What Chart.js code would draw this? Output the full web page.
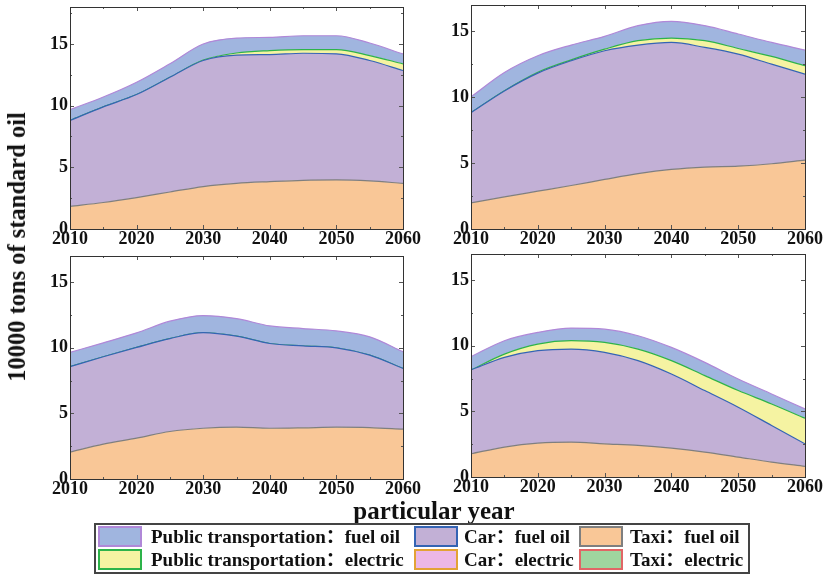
<!DOCTYPE html>
<html>
<head>
<meta charset="utf-8">
<script src="https://cdn.jsdelivr.net/npm/chart.js@4.4.1/dist/chart.umd.min.js"></script>
<style>
  html, body { margin: 0; padding: 0; background: #ffffff; }
  #wrap { position: relative; width: 826px; height: 575px; overflow: hidden; background: #fff; }
  canvas.layer { position: absolute; left: 0; top: 0; }
  .serif { font-family: "Liberation Serif", "Times New Roman", "Noto Sans CJK SC", serif; font-weight: bold; color: #111; }
  #ytitle { position: absolute; left: 17px; top: 247px; transform: translate(-50%, -50%) rotate(-90deg); white-space: nowrap; font-size: 24.5px; line-height: 26px; }
  #xtitle { position: absolute; left: 434px; top: 498px; transform: translateX(-50%); white-space: nowrap; font-size: 25px; line-height: 25px; }
  #legend { position: absolute; left: 94px; top: 523px; width: 652px; height: 47px; border: 2px solid #444; }
  .sw { position: absolute; width: 44px; height: 21px; box-sizing: border-box; border: 2px solid; }
  .lt { position: absolute; white-space: nowrap; font-size: 19px; line-height: 22px; }
</style>
</head>
<body>
<div id="wrap">
  <canvas id="c1" class="layer" width="826" height="575"></canvas>
  <canvas id="c2" class="layer" width="826" height="575"></canvas>
  <canvas id="c3" class="layer" width="826" height="575"></canvas>
  <canvas id="c4" class="layer" width="826" height="575"></canvas>
  <div id="ytitle" class="serif"></div>
  <div id="xtitle" class="serif"></div>
  <div id="legend"></div>
</div>
<script>
// ---------------- DATA ----------------
const years = [2010, 2015, 2020, 2025, 2030, 2035, 2040, 2045, 2050, 2055, 2060];
const xTickValues = [2010, 2020, 2030, 2040, 2050, 2060];
const xTickLabels = ['2010', '2020', '2030', '2040', '2050', '2060'];
const yTickValues = [0, 5, 10, 15];
const yTickLabels = ['0', '5', '10', '15'];
const yAxisTitle = '10000 tons of standard oil';
const xAxisTitle = 'particular year';

// series names (stack order bottom -> top)
const seriesNames = ['Taxi：fuel oil', 'Taxi：electric', 'Car：electric', 'Car：fuel oil',
                     'Public transportation：electric', 'Public transportation：fuel oil'];

// Panel 1 (top-left)
const p1TaxiFuel = [1.83, 2.15, 2.55, 3.00, 3.44, 3.70, 3.84, 3.95, 3.98, 3.90, 3.70];
const p1TaxiElec = [0, 0, 0, 0, 0, 0, 0, 0, 0, 0, 0];
const p1CarElec  = [0, 0, 0, 0, 0, 0, 0, 0, 0, 0, 0];
const p1CarFuel  = [6.97, 7.75, 8.35, 9.30, 10.22, 10.40, 10.30, 10.30, 10.22, 9.76, 9.15];
const p1PubElec  = [0, 0, 0, 0, 0.04, 0.17, 0.32, 0.29, 0.34, 0.40, 0.54];
const p1PubFuel  = [0.88, 0.80, 1.00, 1.10, 1.30, 1.21, 1.08, 1.13, 1.13, 1.02, 0.80];

// Panel 2 (top-right)
const p2TaxiFuel = [1.98, 2.44, 2.87, 3.30, 3.76, 4.20, 4.52, 4.70, 4.77, 4.95, 5.23];
const p2TaxiElec = [0, 0, 0, 0, 0, 0, 0, 0, 0, 0, 0];
const p2CarElec  = [0, 0, 0, 0, 0, 0, 0, 0, 0, 0, 0];
const p2CarFuel  = [6.85, 8.04, 8.96, 9.47, 9.77, 9.76, 9.64, 9.08, 8.50, 7.56, 6.52];
const p2PubElec  = [0, 0.02, 0.07, 0.07, 0.12, 0.33, 0.33, 0.51, 0.43, 0.59, 0.64];
const p2PubFuel  = [1.20, 1.38, 1.25, 1.12, 0.97, 1.14, 1.27, 1.14, 1.10, 1.06, 1.19];

// Panel 3 (bottom-left)
const p3TaxiFuel = [2.05, 2.66, 3.11, 3.62, 3.87, 3.95, 3.87, 3.90, 3.95, 3.92, 3.80];
const p3TaxiElec = [0, 0, 0, 0, 0, 0, 0, 0, 0, 0, 0];
const p3CarElec  = [0, 0, 0, 0, 0, 0, 0, 0, 0, 0, 0];
const p3CarFuel  = [6.51, 6.66, 6.92, 7.08, 7.29, 6.94, 6.46, 6.25, 6.05, 5.52, 4.63];
const p3PubElec  = [0, 0, 0, 0, 0, 0, 0, 0, 0, 0, 0];
const p3PubFuel  = [1.09, 1.06, 1.11, 1.33, 1.30, 1.34, 1.34, 1.32, 1.29, 1.40, 1.27];

// Panel 4 (bottom-right)
const p4TaxiFuel = [1.77, 2.28, 2.58, 2.66, 2.53, 2.41, 2.20, 1.90, 1.52, 1.14, 0.81];
const p4TaxiElec = [0, 0, 0, 0, 0, 0, 0, 0, 0, 0, 0];
const p4CarElec  = [0, 0, 0, 0, 0, 0, 0, 0, 0, 0, 0];
const p4CarFuel  = [6.39, 6.84, 7.05, 7.09, 6.97, 6.46, 5.65, 4.69, 3.80, 2.79, 1.72];
const p4PubElec  = [0, 0.25, 0.50, 0.64, 0.76, 0.88, 1.02, 1.14, 1.27, 1.64, 1.95];
const p4PubFuel  = [1.01, 1.02, 0.89, 0.96, 1.01, 1.02, 1.01, 1.01, 0.88, 0.76, 0.71];

// ---------------- STYLE ----------------
const fillColors = ['#f9c797', '#9fd59f', '#ecb7e6', '#c2b0d6', '#f5f3a2', '#a0b5df'];
const lineColors = ['#7f7f7f', '#e06666', '#e3a235', '#3464b4', '#2db34a', '#b088d8'];

const W = 826, H = 575;
const YW = 40, XH = 24;
const tickFont = { family: 'Liberation Serif', weight: 'bold', size: 18 };

const framePlugin = {
  id: 'frameTicks',
  afterDraw(chart) {
    const { ctx, chartArea: a, scales } = chart;
    ctx.save();
    ctx.strokeStyle = '#555';
    ctx.lineWidth = 1;
    for (let yr = 2010; yr <= 2060; yr += 5) {
      const px = Math.round(scales.x.getPixelForValue(yr)) + 0.5;
      const len = (yr % 10 === 0) ? 4 : 2;
      ctx.beginPath();
      ctx.moveTo(px, a.bottom); ctx.lineTo(px, a.bottom - len);
      ctx.moveTo(px, a.top); ctx.lineTo(px, a.top + len);
      ctx.stroke();
    }
    for (let v = 0; v <= scales.y.max; v += 2.5) {
      const py = Math.round(scales.y.getPixelForValue(v)) + 0.5;
      const len = (v % 5 === 0) ? 4 : 2;
      ctx.beginPath();
      ctx.moveTo(a.left, py); ctx.lineTo(a.left + len, py);
      ctx.moveTo(a.right, py); ctx.lineTo(a.right - len, py);
      ctx.stroke();
    }
    ctx.strokeStyle = '#333';
    ctx.strokeRect(Math.round(a.left) + 0.5, Math.round(a.top) + 0.5,
                   Math.round(a.right - a.left), Math.round(a.bottom - a.top));
    ctx.restore();
  }
};

function makeChart(id, area, yMax, values) {
  const datasets = values.map((vals, i) => ({
    label: seriesNames[i],
    data: years.map((yr, j) => ({ x: yr, y: vals[j] })),
    backgroundColor: fillColors[i],
    borderColor: lineColors[i],
    borderWidth: (i === 1 || i === 2) ? 0 : 1.2,
    fill: i === 0 ? 'origin' : '-1',
    pointRadius: 0,
    cubicInterpolationMode: 'monotone'
  }));
  return new Chart(document.getElementById(id), {
    type: 'line',
    data: { datasets },
    options: {
      responsive: false,
      animation: false,
      devicePixelRatio: 1,
      layout: { padding: { left: area.l - YW, top: area.t, right: W - area.r, bottom: H - area.b - XH } },
      plugins: { legend: { display: false }, tooltip: { enabled: false } },
      scales: {
        x: {
          type: 'linear', min: 2010, max: 2060,
          grid: { display: false, drawTicks: false },
          border: { display: true, color: '#333' },
          ticks: {
            stepSize: 10, padding: 0, color: '#111', font: tickFont, maxRotation: 0,
            callback: (v) => { const k = xTickValues.indexOf(v); return k >= 0 ? xTickLabels[k] : ''; }
          },
          afterFit(s) { s.height = XH; s.paddingLeft = 0; s.paddingRight = 0; }
        },
        y: {
          stacked: true, min: 0, max: yMax,
          grid: { display: false, drawTicks: false },
          border: { display: true, color: '#333' },
          ticks: {
            stepSize: 5, includeBounds: false, padding: 2, color: '#111', font: tickFont,
            callback: (v) => { const k = yTickValues.indexOf(v); return k >= 0 ? yTickLabels[k] : ''; }
          },
          afterFit(s) { s.width = YW; s.paddingTop = 0; s.paddingBottom = 0; }
        }
      }
    },
    plugins: [framePlugin]
  });
}

makeChart('c1', { l: 70, t: 7, r: 403, b: 229 }, 18,
  [p1TaxiFuel, p1TaxiElec, p1CarElec, p1CarFuel, p1PubElec, p1PubFuel]);
makeChart('c2', { l: 471, t: 5, r: 805, b: 229 }, 17,
  [p2TaxiFuel, p2TaxiElec, p2CarElec, p2CarFuel, p2PubElec, p2PubFuel]);
makeChart('c3', { l: 70, t: 256, r: 403, b: 479 }, 17,
  [p3TaxiFuel, p3TaxiElec, p3CarElec, p3CarFuel, p3PubElec, p3PubFuel]);
makeChart('c4', { l: 471, t: 254, r: 805, b: 477 }, 17,
  [p4TaxiFuel, p4TaxiElec, p4CarElec, p4CarFuel, p4PubElec, p4PubFuel]);

// ---------------- TITLES & LEGEND ----------------
document.getElementById('ytitle').textContent = yAxisTitle;
document.getElementById('xtitle').textContent = xAxisTitle;

const legendOrder = [[5, 3, 0], [4, 2, 1]];
const colSwatchX = [2, 318, 483];
const colTextX = [55, 368, 534];
const rowY = [1, 24];
const legend = document.getElementById('legend');
legendOrder.forEach((row, r) => {
  row.forEach((si, c) => {
    const sw = document.createElement('div');
    sw.className = 'sw';
    sw.style.left = colSwatchX[c] + 'px';
    sw.style.top = rowY[r] + 'px';
    sw.style.background = fillColors[si];
    sw.style.borderColor = lineColors[si];
    legend.appendChild(sw);
    const t = document.createElement('div');
    t.className = 'lt serif';
    t.style.left = colTextX[c] + 'px';
    t.style.top = rowY[r] + 'px';
    t.textContent = seriesNames[si];
    legend.appendChild(t);
  });
});
</script>
</body>
</html>
